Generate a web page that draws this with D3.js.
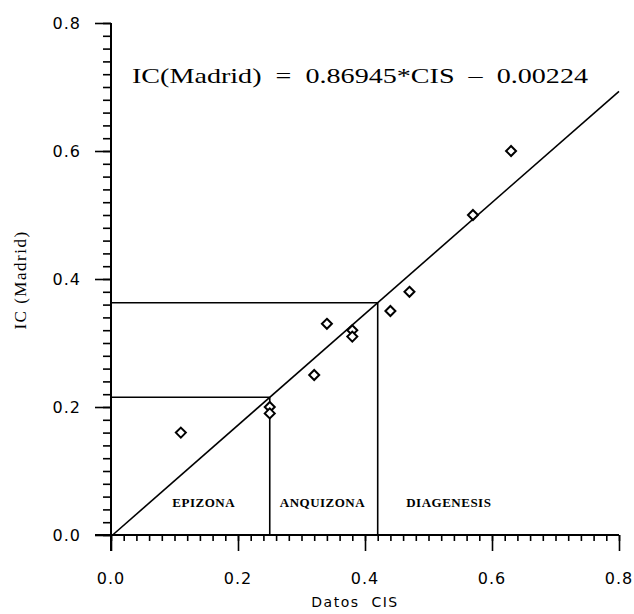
<!DOCTYPE html>
<html>
<head>
<meta charset="utf-8">
<script src="https://cdn.jsdelivr.net/npm/d3@7"></script>
<style>
  body { margin: 0; background: #fff; }
</style>
</head>
<body>
<div id="plot"></div>
<script>
// valores
let cis = [0.11, 0.25, 0.25, 0.32, 0.34, 0.38, 0.38, 0.44, 0.47, 0.57, 0.63]
let icMadrid = [0.16, 0.20, 0.19, 0.25, 0.33, 0.32, 0.31, 0.35, 0.38, 0.50, 0.60]
let slope = 0.86945
let intercept = -0.00224
let limits = [0.25, 0.42]
let zones = ['EPIZONA', 'ANQUIZONA', 'DIAGENESIS']
let zoneX = [0.146, 0.333, 0.532]
let majorTicks = [0, 0.2, 0.4, 0.6, 0.8]

let svg = d3.select('#plot').append('svg')
.attr('width', 634)
.attr('height', 614)

let x = d3.scaleLinear().domain([0, 0.8]).range([111, 619])
let y = d3.scaleLinear().domain([0, 0.8]).range([535, 23])

let minor = d3.range(0, 41).map(d => d * 0.02)
let fmt = d3.format('.1f')

// eje x
let gx = svg.append('g').attr('transform', 'translate(0,535)')
gx.call(d3.axisBottom(x).tickValues(minor).tickSize(6).tickFormat(''))
gx.append('g').call(d3.axisBottom(x).tickValues(majorTicks).tickSize(16).tickFormat(''))
gx.selectAll('.domain').remove()
gx.append('line').attr('x1', 95).attr('x2', x(0.8)).attr('stroke', 'black').attr('stroke-width', 2)

// eje y
let gy = svg.append('g').attr('transform', 'translate(111,0)')
gy.call(d3.axisLeft(y).tickValues(minor).tickSize(8).tickFormat(''))
gy.append('g').call(d3.axisLeft(y).tickValues(majorTicks).tickSize(16).tickFormat(''))
gy.selectAll('.domain').remove()
gy.append('line').attr('y1', y(0.8)).attr('y2', 551).attr('stroke', 'black').attr('stroke-width', 2)

svg.selectAll('.tick line').attr('stroke', 'black').attr('stroke-width', 1.6)

// etiquetas
svg.selectAll('.xlab').data(majorTicks).enter()
.append('text')
.attr('x', d => x(d))
.attr('y', 584)
.attr('text-anchor', 'middle')
.style('font-family', 'DejaVu Sans')
.style('font-size', '16px')
.style('letter-spacing', '1px')
.text(d => fmt(d))

svg.selectAll('.ylab').data(majorTicks).enter()
.append('text')
.attr('x', 81)
.attr('y', d => y(d) + 6)
.attr('text-anchor', 'end')
.style('font-family', 'DejaVu Sans')
.style('font-size', '16px')
.style('letter-spacing', '1px')
.text(d => fmt(d))

svg.append('text')
.attr('x', 355)
.attr('y', 607)
.attr('text-anchor', 'middle')
.attr('xml:space', 'preserve')
.style('white-space', 'pre')
.style('font-family', 'DejaVu Sans')
.style('font-size', '14px')
.style('letter-spacing', '1.5px')
.text('Datos  CIS')

svg.append('text')
.attr('transform', 'translate(26,280) rotate(-90)')
.attr('text-anchor', 'middle')
.style('font-family', 'Liberation Serif')
.style('font-size', '17px')
.style('letter-spacing', '1.5px')
.text('IC (Madrid)')

// recta de regresion
let f = d => slope * d + intercept
svg.append('line')
.attr('x1', x(-intercept / slope))
.attr('y1', y(0))
.attr('x2', x(0.8))
.attr('y2', y(f(0.8)))
.attr('stroke', 'black')
.attr('stroke-width', 1.6)

// limites de zonas
limits.forEach(function(l) {
  svg.append('line')
  .attr('x1', x(0)).attr('x2', x(l))
  .attr('y1', y(f(l))).attr('y2', y(f(l)))
  .attr('stroke', 'black').attr('stroke-width', 1.6)
  svg.append('line')
  .attr('x1', x(l)).attr('x2', x(l))
  .attr('y1', y(f(l))).attr('y2', y(0))
  .attr('stroke', 'black').attr('stroke-width', 1.6)
})

svg.selectAll('.zone').data(zones).enter()
.append('text')
.attr('x', (d, i) => x(zoneX[i]))
.attr('y', 507)
.attr('text-anchor', 'middle')
.style('font-family', 'Liberation Serif')
.style('font-weight', 'bold')
.style('font-size', '13px')
.style('letter-spacing', '0.5px')
.text(d => d)

// ecuacion
svg.append('text')
.attr('x', 132)
.attr('y', 83)
.attr('textLength', 456)
.attr('lengthAdjust', 'spacingAndGlyphs')
.attr('xml:space', 'preserve')
.style('white-space', 'pre')
.style('font-family', 'Liberation Serif')
.style('font-size', '22px')
.text('IC(Madrid)  =  0.86945*CIS  \u2013  0.00224')

// puntos
svg.selectAll('.pt').data(cis).enter()
.append('path')
.attr('d', 'M0,-5L5,0L0,5L-5,0Z')
.attr('transform', (d, i) => 'translate(' + x(d) + ',' + y(icMadrid[i]) + ')')
.attr('fill', 'white')
.attr('stroke', 'black')
.attr('stroke-width', 2)
</script>
</body>
</html>
